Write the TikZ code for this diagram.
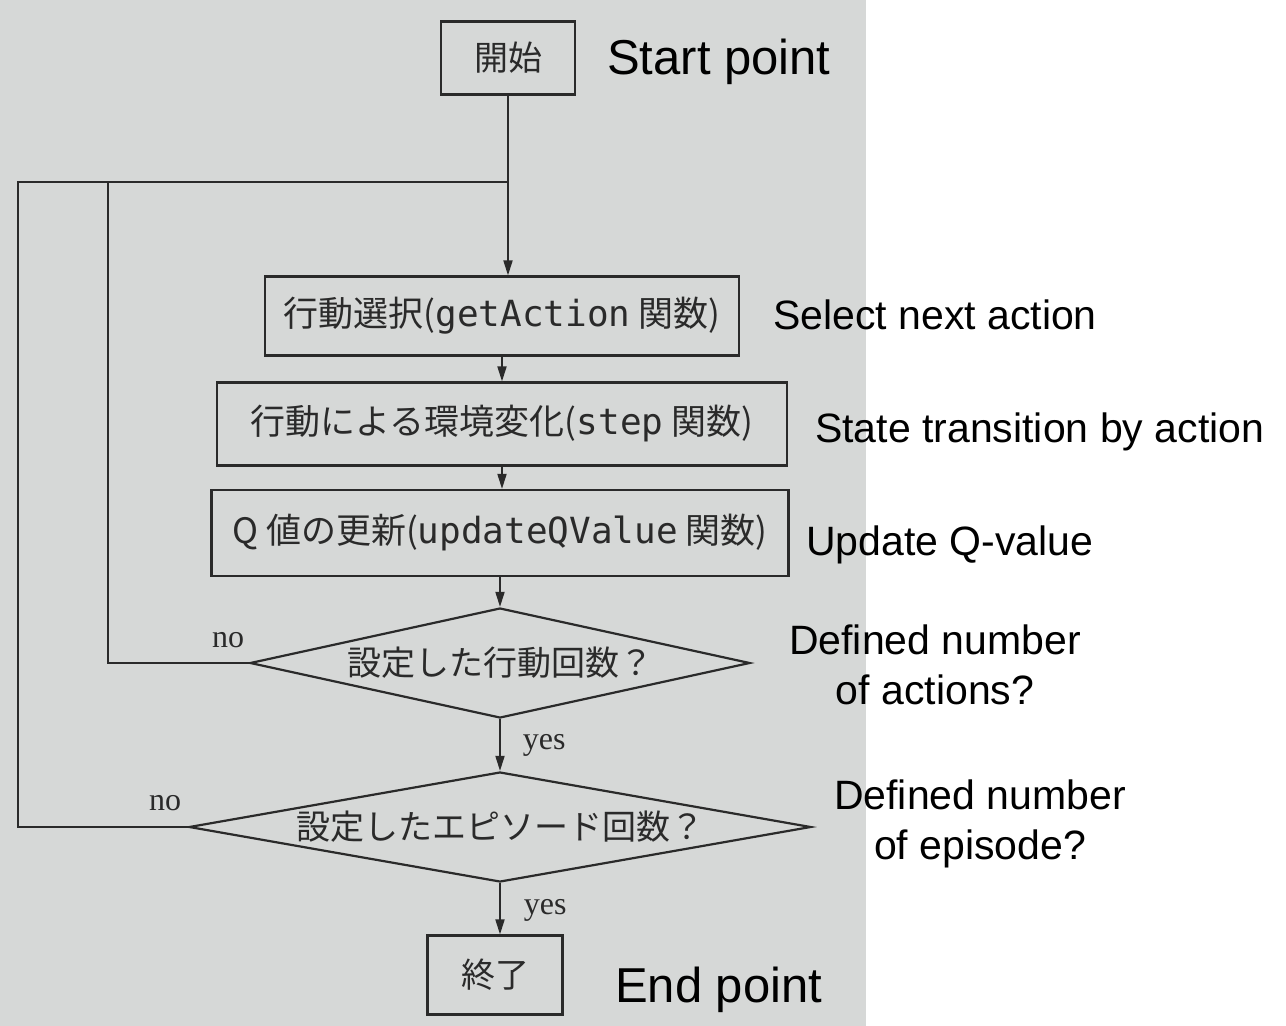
\documentclass[tikz,border=0pt]{standalone}
\usepackage{fontspec}
\setmainfont{Liberation Sans}
\newfontfamily\jp{Noto Sans CJK JP}
\newfontfamily\code{DejaVu Sans Mono}
\newfontfamily\ser{Liberation Serif}
\usetikzlibrary{shapes.geometric,arrows.meta}
\definecolor{page}{HTML}{D6D8D7}
\definecolor{ink}{HTML}{2A2A2A}
\newcommand{\cd}[1]{{\code\fontsize{36}{40}\selectfont #1}}
\begin{document}
\begin{tikzpicture}[x=1pt,y=-1pt,
  box/.style={draw=ink,line width=2.2pt,rectangle,inner sep=0pt,text=ink,font=\jp\fontsize{35}{40}\selectfont},
  endbox/.style={box,font=\jp\fontsize{34}{40}\selectfont},
  dec/.style={draw=ink,line width=2.2pt,diamond,inner sep=0pt,text=ink,font=\jp\fontsize{34}{40}\selectfont},
  flow/.style={draw=ink,line width=1.8pt,-{Triangle[length=15pt,width=9pt]}},
  back/.style={draw=ink,line width=1.8pt},
  tag/.style={text=ink,font=\ser\fontsize{32}{36}\selectfont,inner sep=0pt},
  note/.style={text=black,font=\fontsize{41}{50}\selectfont,inner sep=0pt},
  bignote/.style={text=black,font=\fontsize{49}{55}\selectfont,inner sep=0pt}]
\fill[white] (0,0) rectangle (1286,1026);
\fill[page] (0,0) rectangle (866,1026);
\useasboundingbox (0,0) rectangle (1286,1026);

\node[endbox,minimum width=134,minimum height=73] (start) at (508,58) {開始};
\node[box,minimum width=474,minimum height=79] (a1) at (502,316) {行動選択(\cd{getAction} 関数)};
\node[box,minimum width=570,minimum height=83] (a2) at (502,424) {行動による環境変化(\cd{step} 関数)};
\node[box,minimum width=577,minimum height=86] (a3) at (500,533) {Q 値の更新(\cd{updateQValue} 関数)};
\node[dec,shape aspect=4.5,minimum width=500,minimum height=110] (d1) at (500,663) {設定した行動回数？};
\node[dec,shape aspect=5.65,minimum width=622,minimum height=110] (d2) at (500,827) {設定したエピソード回数？};
\node[endbox,minimum width=135,minimum height=79] (end) at (495,975) {終了};

\coordinate (m) at (start.south |- 0,182);
\coordinate (l1) at (108,182);
\coordinate (l2) at (18,182);

\draw[flow] (start.south) -- (start.south |- a1.north);
\draw[flow] (a1.south -| 502,0) -- (a2.north -| 502,0);
\draw[flow] (a2.south -| 502,0) -- (a3.north -| 502,0);
\draw[flow] (a3.south -| 500,0) -- (d1.north);
\draw[flow] (d1.south) -- node[tag,anchor=west,xshift=22pt] (y1) {yes} (d2.north);
\draw[flow] (d2.south) -- node[tag,anchor=west,xshift=23pt,yshift=-2pt] (y2) {yes} (d2.south |- end.north);

\draw[back] (d1.west) -| (l1) -- (m);
\draw[back] (d2.west) -| (l2) -- (l1);
\node[tag] (n1) at (228,640) {no};
\node[tag] (n2) at (165,803) {no};

\node[bignote,anchor=west] (t0) at (607,62) {Start point};
\node[note,anchor=west] (t1) at (773,315) {Select next action};
\node[note,anchor=west] (t2) at (815,432) {State transition by action};
\node[note,anchor=west] (t3) at (806,545) {Update Q-value};
\node[note,align=center] (t4) at (935,665) {Defined number\\of actions?};
\node[note,align=center] (t5) at (980,824) {Defined number\\of episode?};
\node[bignote,anchor=west] (t6) at (615,990) {End point};
\end{tikzpicture}
\end{document}
